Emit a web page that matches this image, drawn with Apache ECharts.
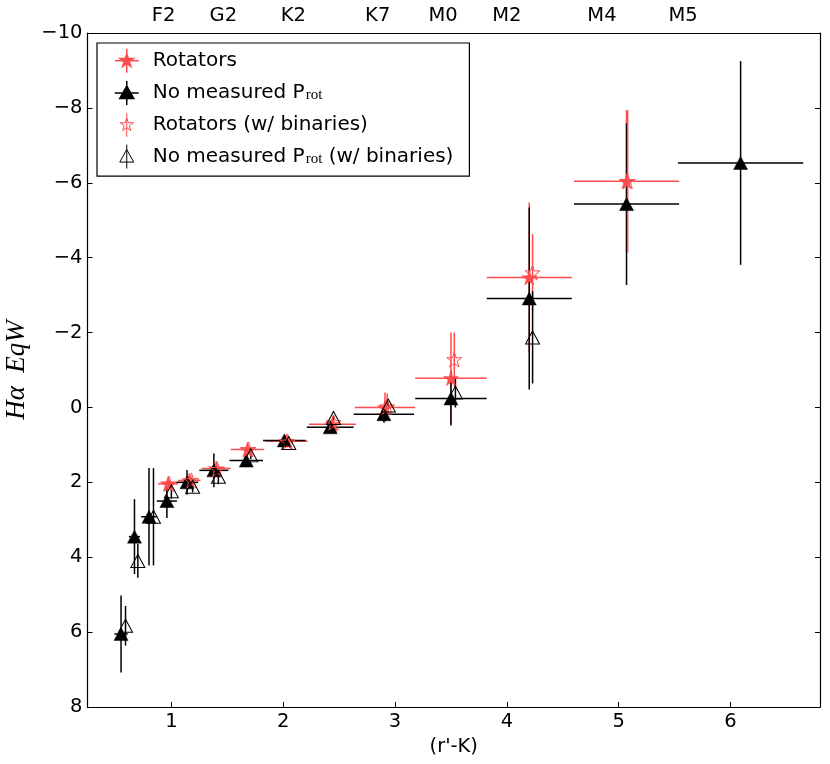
<!DOCTYPE html>
<html>
<head>
<meta charset="utf-8">
<script src="https://cdn.jsdelivr.net/npm/echarts@6/dist/echarts.min.js"></script>
<style>
html,body{margin:0;padding:0;background:#fff;}
#chart{width:830px;height:764px;}
</style>
</head>
<body>
<div id="chart"></div>
<script>
// ---- data ----
// No measured Prot (filled triangles)
const noPX    = [0.55, 0.67, 0.80, 0.96, 1.14, 1.38, 1.67, 2.01, 2.42, 2.90, 3.50, 4.20, 5.07, 6.09];
const noPY    = [6.05, 3.45, 2.92, 2.50, 2.00, 1.68, 1.42, 0.88, 0.53, 0.18, -0.24, -2.91, -5.43, -6.53];
const noPXErr = [0.06, 0.05, 0.07, 0.09, 0.10, 0.13, 0.15, 0.19, 0.21, 0.27, 0.32, 0.38, 0.47, 0.56];
const noPYErr = [1.03, 1.00, 1.30, 0.45, 0.33, 0.45, 0.10, 0.10, 0.07, 0.22, 0.72, 2.43, 2.16, 2.72];
// Rotators (filled stars)
const rotX    = [0.97, 1.16, 1.40, 1.68, 2.03, 2.44, 2.91, 3.50, 4.20, 5.07];
const rotY    = [2.04, 1.95, 1.63, 1.12, 0.90, 0.45, 0.00, -0.78, -3.47, -6.04];
const rotXErr = [0.09, 0.10, 0.13, 0.15, 0.19, 0.21, 0.27, 0.32, 0.38, 0.47];
const rotYErr = [0.10, 0.10, 0.08, 0.10, 0.06, 0.05, 0.40, 1.22, 2.00, 1.90];
// Rotators (w/ binaries) (open stars)
const rotBX    = [0.98, 1.18, 1.41, 1.69, 2.04, 2.45, 2.93, 3.53, 4.23, 5.08];
const rotBY    = [2.04, 1.95, 1.65, 1.12, 0.92, 0.40, -0.02, -1.28, -3.60, -6.04];
const rotBYErr = [0.10, 0.10, 0.10, 0.10, 0.06, 0.08, 0.35, 0.72, 1.03, 1.90];
// No measured Prot (w/ binaries) (open triangles)
const noPBX    = [0.59, 0.70, 0.84, 1.00, 1.19, 1.42, 1.71, 2.05, 2.45, 2.94, 3.54, 4.23];
const noPBY    = [5.83, 4.10, 2.92, 2.24, 2.12, 1.85, 1.28, 0.95, 0.28, -0.05, -0.40, -1.87];
const noPBYErr = [0.53, 0.45, 1.30, 0.20, 0.15, 0.20, 0.10, 0.08, 0.06, 0.10, 0.40, 1.23];
// top axis spectral types
const spTypes = ['F2', 'G2', 'K2', 'K7', 'M0', 'M2', 'M4', 'M5'];
const spPos   = [0.93, 1.465, 2.09, 2.845, 3.43, 4.0, 4.85, 5.575];
// bottom axis ticks
const xTicks = [1, 2, 3, 4, 5, 6];

// ---- styles ----
const RED = '#ff4d4d';
const BLACK = '#000';
const FONT = 'DejaVu Sans';
const FS = 19.5;
const STAR = 'path://M10 0 L12.234 6.926 L19.511 6.910 L13.614 11.174 L15.878 18.090 L10 13.8 L4.122 18.090 L6.386 11.174 L0.489 6.910 L7.766 6.926 Z';
const STARPTS = 'M12 5 L13.564 9.848 L18.658 9.837 L14.530 12.822 L16.115 17.663 L12 14.66 L7.885 17.663 L9.470 12.822 L5.342 9.837 L10.436 9.848 Z';
const TRIPTS = 'M12 5 L19 17.5 L5 17.5 Z';
const ICON_ROT = 'path://M0 12 L24 12 M12 0 L12 24 ' + STARPTS;
const ICON_NOP = 'path://M0 12 L24 12 M12 0 L12 24 ' + TRIPTS;
const ICON_ROTB = 'path://M6 12 L6 12.01 M12 0 L12 24 ' + STARPTS;
const ICON_NOPB = 'path://M6 12 L6 12.01 M12 0 L12 24 ' + TRIPTS;

function zip4(xs, ys, xe, ye) {
  return xs.map((x, i) => [x, ys[i], xe ? xe[i] : 0, ye ? ye[i] : 0]);
}

function errSeries(name, data, color) {
  return {
    name: name,
    type: 'custom',
    data: data,
    encode: { x: 0, y: 1 },
    silent: true,
    renderItem: function (params, api) {
      const x = api.value(0), y = api.value(1), xe = api.value(2), ye = api.value(3);
      const kids = [];
      const st = { stroke: color, lineWidth: 1.5, fill: null };
      if (ye > 0) {
        const a = api.coord([x, y - ye]), b = api.coord([x, y + ye]);
        kids.push({ type: 'line', shape: { x1: a[0], y1: a[1], x2: b[0], y2: b[1] }, style: st });
      }
      if (xe > 0) {
        const a = api.coord([x - xe, y]), b = api.coord([x + xe, y]);
        kids.push({ type: 'line', shape: { x1: a[0], y1: a[1], x2: b[0], y2: b[1] }, style: st });
      }
      return { type: 'group', children: kids };
    }
  };
}

const chart = echarts.init(document.getElementById('chart'), null, { renderer: 'canvas' });

const option = {
  animation: false,
  backgroundColor: '#fff',
  grid: { left: 87.5, right: 10, top: 33, bottom: 57, containLabel: false, outerBoundsMode: 'none' },
  xAxis: [
    {
      type: 'value', min: 0.25, max: 6.8, position: 'bottom',
      name: "(r'-K)", nameLocation: 'middle', nameGap: 29,
      nameTextStyle: { fontFamily: FONT, fontSize: FS, color: '#000' },
      axisLine: { show: true, onZero: false, lineStyle: { color: '#000', width: 1.2 } },
      axisTick: { show: true, inside: true, length: 5, customValues: xTicks, lineStyle: { color: '#000', width: 1 } },
      axisLabel: { show: true, customValues: xTicks, margin: 5, fontFamily: FONT, fontSize: FS, color: '#000' },
      splitLine: { show: false }
    },
    {
      type: 'value', min: 0.25, max: 6.8, position: 'top',
      axisLine: { show: true, onZero: false, lineStyle: { color: '#000', width: 1.2 } },
      axisTick: { show: false },
      axisLabel: {
        show: true, customValues: spPos, margin: 7, fontFamily: FONT, fontSize: FS, color: '#000',
        formatter: function (v) { const i = spPos.indexOf(v); return i >= 0 ? spTypes[i] : ''; }
      },
      splitLine: { show: false }
    }
  ],
  yAxis: [
    {
      type: 'value', min: -10, max: 8, interval: 2, inverse: true, position: 'left',
      name: 'H\u03B1  EqW', nameLocation: 'middle', nameGap: 54, nameRotate: 90,
      nameTextStyle: { fontFamily: 'Liberation Serif', fontStyle: 'italic', fontSize: 27, color: '#000' },
      axisLine: { show: true, onZero: false, lineStyle: { color: '#000', width: 1.2 } },
      axisTick: { show: true, inside: true, length: 5, lineStyle: { color: '#000', width: 1 } },
      axisLabel: {
        show: true, margin: 5, fontFamily: FONT, fontSize: FS, color: '#000',
        formatter: function (v) { return String(v).replace('-', '\u2212'); }
      },
      splitLine: { show: false }
    },
    {
      type: 'value', min: -10, max: 8, interval: 2, inverse: true, position: 'right',
      axisLine: { show: true, onZero: false, lineStyle: { color: '#000', width: 1.2 } },
      axisTick: { show: true, inside: true, length: 5, lineStyle: { color: '#000', width: 1 } },
      axisLabel: { show: false },
      splitLine: { show: false }
    }
  ],
  legend: {
    orient: 'vertical',
    left: 97, top: 43,
    padding: [5, 16, 7, 17],
    itemGap: 6.7,
    itemWidth: 24, itemHeight: 24,
    borderColor: '#000', borderWidth: 1.2,
    backgroundColor: '#fff',
    selectedMode: false,
    textStyle: {
      fontFamily: FONT, fontSize: 20, color: '#000', padding: [0, 0, 0, 9],
      rich: {
        a: { fontFamily: FONT, fontSize: 20, color: '#000' },
        s: { fontFamily: 'Liberation Serif', fontSize: 15, color: '#000', verticalAlign: 'bottom', lineHeight: 14, padding: [0, 0, 0, 1] }
      }
    },
    formatter: function (name) {
      if (name.indexOf('P_rot') >= 0) {
        const parts = name.split('P_rot');
        return '{a|' + parts[0] + 'P}{s|rot}' + (parts[1] ? '{a|' + parts[1] + '}' : '');
      }
      return name;
    },
    data: [
      { name: 'Rotators', icon: ICON_ROT, itemStyle: { color: RED, borderColor: RED, borderWidth: 1.5 } },
      { name: 'No measured P_rot', icon: ICON_NOP, itemStyle: { color: BLACK, borderColor: BLACK, borderWidth: 1.5 } },
      { name: 'Rotators (w/ binaries)', icon: ICON_ROTB, itemStyle: { color: 'rgba(0,0,0,0)', borderColor: RED, borderWidth: 1 } },
      { name: 'No measured P_rot (w/ binaries)', icon: ICON_NOPB, itemStyle: { color: 'rgba(0,0,0,0)', borderColor: BLACK, borderWidth: 1 } }
    ]
  },
  series: [
    errSeries('rotErr', zip4(rotX, rotY, rotXErr, rotYErr), RED),
    {
      name: 'Rotators', type: 'scatter', symbol: STAR, symbolSize: 15,
      data: rotX.map((x, i) => [x, rotY[i]]),
      itemStyle: { color: RED, borderColor: RED, borderWidth: 0.5, opacity: 1 },
      silent: true
    },
    errSeries('noPErr', zip4(noPX, noPY, noPXErr, noPYErr), BLACK),
    {
      name: 'No measured P_rot', type: 'scatter', symbol: 'triangle', symbolSize: [14, 13],
      data: noPX.map((x, i) => [x, noPY[i]]),
      itemStyle: { color: BLACK, borderColor: BLACK, borderWidth: 0.5, opacity: 1 },
      silent: true
    },
    errSeries('rotBErr', zip4(rotBX, rotBY, null, rotBYErr), RED),
    {
      name: 'Rotators (w/ binaries)', type: 'scatter', symbol: STAR, symbolSize: 15,
      data: rotBX.map((x, i) => [x, rotBY[i]]),
      itemStyle: { color: 'rgba(0,0,0,0)', borderColor: RED, borderWidth: 1, opacity: 1 },
      silent: true
    },
    errSeries('noPBErr', zip4(noPBX, noPBY, null, noPBYErr), BLACK),
    {
      name: 'No measured P_rot (w/ binaries)', type: 'scatter', symbol: 'triangle', symbolSize: [14, 13],
      data: noPBX.map((x, i) => [x, noPBY[i]]),
      itemStyle: { color: 'rgba(0,0,0,0)', borderColor: BLACK, borderWidth: 1, opacity: 1 },
      silent: true
    }
  ]
};
chart.setOption(option);
</script>
</body>
</html>
